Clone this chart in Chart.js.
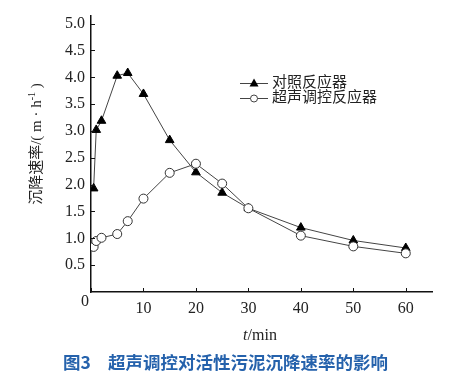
<!DOCTYPE html>
<html lang="zh">
<head>
<meta charset="UTF-8">
<title>超声调控对活性污泥沉降速率的影响</title>
<script src="https://cdn.jsdelivr.net/npm/chart.js"></script>
<style>
  html, body { margin: 0; padding: 0; background: #fff; }
</style>
</head>
<body>
<canvas id="chart" width="467" height="374"></canvas>
<script>
// time (min)
const times = [0.5, 1, 2, 5, 7, 10, 15, 20, 25, 30, 40, 50, 60];
// settling rate (m/h)
const controlRate = [1.93, 3.02, 3.19, 4.03, 4.08, 3.69, 2.83, 2.23, 1.85, 1.56, 1.20, 0.96, 0.82];
const ultrasonicRate = [0.84, 0.95, 1.01, 1.08, 1.32, 1.74, 2.22, 2.39, 2.02, 1.56, 1.05, 0.85, 0.72];
const seriesNames = ['对照反应器', '超声调控反应器'];
const xTicks = [0, 10, 20, 30, 40, 50, 60];
const yTicks = [0.5, 1.0, 1.5, 2.0, 2.5, 3.0, 3.5, 4.0, 4.5, 5.0];

const LINE = '#444';
const AXIS = '#111';
const TEXT = '#222';
const serif = '"Liberation Serif", "Noto Sans CJK SC", serif';

function toXY(ys) {
  return times.map((t, i) => ({ x: t, y: ys[i] }));
}

// inner tick marks, axis titles, legend and caption
const decor = {
  id: 'decor',
  afterDraw(chart) {
    const { ctx, chartArea: a, scales: { x, y } } = chart;
    ctx.save();
    ctx.strokeStyle = AXIS;
    ctx.lineWidth = 1;
    ctx.beginPath();
    xTicks.forEach(v => {
      const px = Math.round(x.getPixelForValue(v)) + 0.5;
      ctx.moveTo(px, a.bottom);
      ctx.lineTo(px, a.bottom - 4);
    });
    yTicks.forEach(v => {
      const py = Math.round(y.getPixelForValue(v)) + 0.5;
      ctx.moveTo(a.left, py);
      ctx.lineTo(a.left + 4, py);
    });
    ctx.stroke();

    // origin label
    ctx.fillStyle = TEXT;
    ctx.font = '16px ' + serif;
    ctx.textAlign = 'center';
    ctx.textBaseline = 'middle';
    ctx.fillText('0', 85, 302);

    // x title: t/min with italic t
    ctx.textAlign = 'left';
    ctx.font = 'italic 16px ' + serif;
    const tw = ctx.measureText('t').width;
    ctx.font = '16px ' + serif;
    const rw = ctx.measureText('/min').width;
    const sx = 260 - (tw + rw) / 2;
    ctx.font = 'italic 16px ' + serif;
    ctx.fillText('t', sx, 336);
    ctx.font = '16px ' + serif;
    ctx.fillText('/min', sx + tw, 336);

    // y title, rotated
    ctx.save();
    ctx.translate(37, 144);
    ctx.rotate(-Math.PI / 2);
    ctx.font = '15px ' + serif;
    const parts = ['沉降速率/( m · h', '-1', ' )'];
    const w0 = ctx.measureText(parts[0]).width;
    ctx.font = '10px ' + serif;
    const w1 = ctx.measureText(parts[1]).width;
    ctx.font = '15px ' + serif;
    const w2 = ctx.measureText(parts[2]).width;
    let px = -(w0 + w1 + w2) / 2;
    ctx.fillText(parts[0], px, 0);
    px += w0;
    ctx.font = '10px ' + serif;
    ctx.fillText(parts[1], px, -5);
    px += w1;
    ctx.font = '15px ' + serif;
    ctx.fillText(parts[2], px, 0);
    ctx.restore();

    // legend
    chart.data.datasets.forEach((ds, i) => {
      const ly = 83 + i * 15;
      ctx.strokeStyle = LINE;
      ctx.beginPath();
      ctx.moveTo(240, ly + 0.5);
      ctx.lineTo(268, ly + 0.5);
      ctx.stroke();
      ctx.beginPath();
      if (ds.pointStyle === 'triangle') {
        ctx.fillStyle = '#000';
        ctx.moveTo(254, ly - 4.5);
        ctx.lineTo(258.5, ly + 3.5);
        ctx.lineTo(249.5, ly + 3.5);
        ctx.closePath();
        ctx.fill();
      } else {
        ctx.fillStyle = '#fff';
        ctx.arc(254, ly + 0.5, 3.5, 0, Math.PI * 2);
        ctx.fill();
        ctx.stroke();
      }
      ctx.fillStyle = TEXT;
      ctx.font = '15px ' + serif;
      ctx.fillText(ds.label, 272, ly);
    });

    // caption
    ctx.fillStyle = '#2562ac';
    ctx.font = 'bold 17.5px "Noto Sans CJK SC", sans-serif';
    ctx.fillText('图3', 63, 362);
    ctx.fillText('超声调控对活性污泥沉降速率的影响', 108, 362);
    ctx.restore();
  }
};

new Chart(document.getElementById('chart'), {
  type: 'line',
  data: {
    datasets: [
      {
        label: seriesNames[0],
        data: toXY(controlRate),
        borderColor: LINE,
        borderWidth: 1,
        pointStyle: 'triangle',
        pointRadius: 5,
        pointBackgroundColor: '#000',
        pointBorderColor: '#000',
        pointBorderWidth: 1,
        tension: 0,
        order: 1
      },
      {
        label: seriesNames[1],
        data: toXY(ultrasonicRate),
        borderColor: LINE,
        borderWidth: 1,
        pointStyle: 'circle',
        pointRadius: 4.5,
        pointBackgroundColor: '#fff',
        pointBorderColor: '#333',
        pointBorderWidth: 1,
        tension: 0,
        order: 0
      }
    ]
  },
  options: {
    responsive: false,
    animation: false,
    layout: { padding: { top: 7, right: 35, left: 0, bottom: 0 } },
    plugins: {
      legend: { display: false },
      tooltip: { enabled: false }
    },
    scales: {
      x: {
        type: 'linear',
        min: 0,
        max: 65,
        afterFit: s => { s.height = 82; },
        afterBuildTicks: s => { s.ticks = xTicks.map(v => ({ value: v })); },
        grid: { display: false, drawTicks: false },
        border: { display: true, color: AXIS, width: 1.5 },
        ticks: {
          padding: 7,
          color: TEXT,
          font: { family: serif, size: 16 },
          callback: v => (v === 0 ? '' : v)
        }
      },
      y: {
        min: 0,
        max: 5.15,
        afterFit: s => { s.width = 91; },
        afterBuildTicks: s => { s.ticks = yTicks.map(v => ({ value: v })); },
        grid: { display: false, drawTicks: false },
        border: { display: true, color: AXIS, width: 1.5 },
        ticks: {
          padding: 6,
          color: TEXT,
          font: { family: serif, size: 16 },
          callback: v => v.toFixed(1)
        }
      }
    }
  },
  plugins: [decor]
});
</script>
</body>
</html>
